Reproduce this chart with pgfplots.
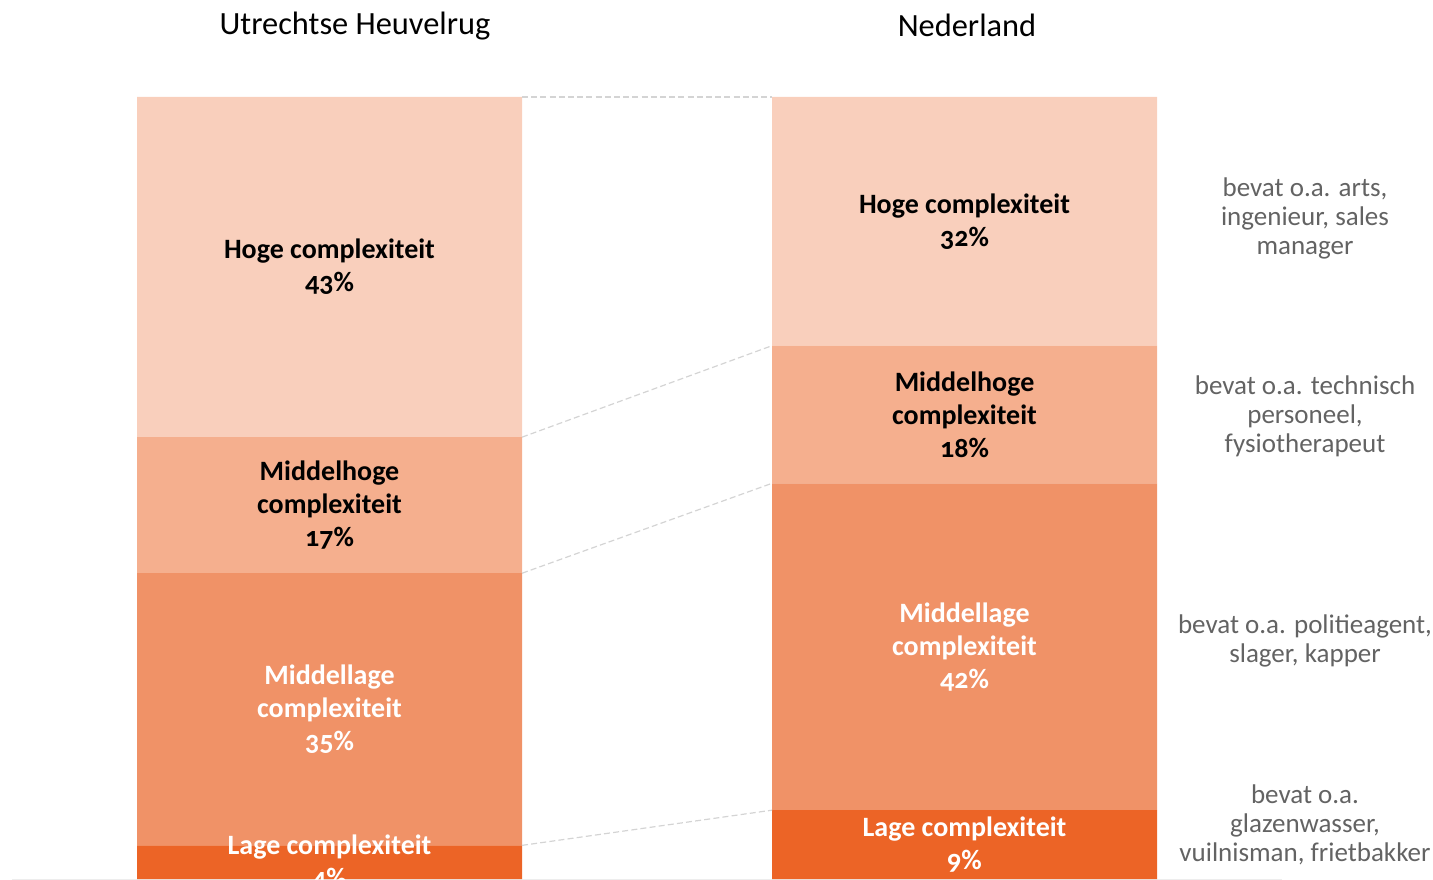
\documentclass[border=0pt]{standalone}
\usepackage{pgfplots}
\pgfplotsset{compat=1.18}
\usepackage{fontspec}
\setmainfont{Carlito}[Numbers=OldStyle]
\definecolor{cHoge}{HTML}{F9CFBC}
\definecolor{cMHoge}{HTML}{F5AF8E}
\definecolor{cMLage}{HTML}{F09267}
\definecolor{cLage}{HTML}{EC6426}
\definecolor{cNote}{HTML}{636363}
\definecolor{cConn}{HTML}{D4D4D4}
\begin{document}
\begin{tikzpicture}
\useasboundingbox (0,0) rectangle (716.5pt,439.5pt);
\pgfplotsset{base/.style={at={(6pt,0pt)}, anchor=south west, scale only axis,
  width=635pt, height=391pt, xmin=12, xmax=1282, ymin=0, ymax=100, clip=false}}
\begin{axis}[base, ybar stacked, bar width=385,
  hide y axis, axis x line*=bottom, axis line style={draw=black!7, -},
  xtick=\empty, ytick=\empty]
\addplot[fill=cLage, draw=none] coordinates {(329.5,4.3) (964.5,8.8)};
\addplot[fill=cMLage, draw=none] coordinates {(329.5,34.8) (964.5,41.8)};
\addplot[fill=cMHoge, draw=none] coordinates {(329.5,17.4) (964.5,17.6)};
\addplot[fill=cHoge, draw=none] coordinates {(329.5,43.5) (964.5,31.8)};
\end{axis}
\begin{axis}[base, hide axis]
\tikzset{conn/.style={draw=cConn, no markers, line width=0.6pt, dash pattern=on 3pt off 1.6pt}}
\addplot[conn] coordinates {(522,4.3) (772,8.8)};
\addplot[conn] coordinates {(522,39.1) (772,50.6)};
\addplot[conn] coordinates {(522,56.5) (772,68.2)};
\addplot[conn] coordinates {(522,100) (772,100)};
% titles
\node[font=\fontsize{16.2}{19}\selectfont] at (axis cs:355,109.1) {Utrechtse Heuvelrug};
\node[font=\fontsize{16.2}{19}\selectfont] at (axis cs:967,109.1) {Nederland};
% bar labels
\tikzset{bl/.style={align=center, font=\fontsize{14}{16.5}\selectfont\bfseries}}
\node[bl] at (axis cs:329.5,78.25) {Hoge complexiteit\\43\%};
\node[bl] at (axis cs:329.5,47.8) {Middelhoge\\complexiteit\\17\%};
\node[bl, white] at (axis cs:329.5,21.7) {Middellage\\complexiteit\\35\%};
\node[bl, white] at (axis cs:329.5,2.15) {Lage complexiteit\\4\%};
\node[bl] at (axis cs:964.5,84.1) {Hoge complexiteit\\32\%};
\node[bl] at (axis cs:964.5,59.4) {Middelhoge\\complexiteit\\18\%};
\node[bl, white] at (axis cs:964.5,29.7) {Middellage\\complexiteit\\42\%};
\node[bl, white] at (axis cs:964.5,4.4) {Lage complexiteit\\9\%};
% notes
\tikzset{nt/.style={align=center, text=cNote, font=\fontsize{13.5}{14.5}\selectfont}}
\node[nt] at (axis cs:1305,84.5) {bevat o.a. arts,\\ingenieur, sales\\manager};
\node[nt] at (axis cs:1305,59.2) {bevat o.a. technisch\\personeel,\\fysiotherapeut};
\node[nt] at (axis cs:1305,30.4) {bevat o.a. politieagent,\\slager, kapper};
\node[nt] at (axis cs:1305,6.9) {bevat o.a.\\glazenwasser,\\vuilnisman, frietbakker};
\end{axis}
\end{tikzpicture}
\end{document}
